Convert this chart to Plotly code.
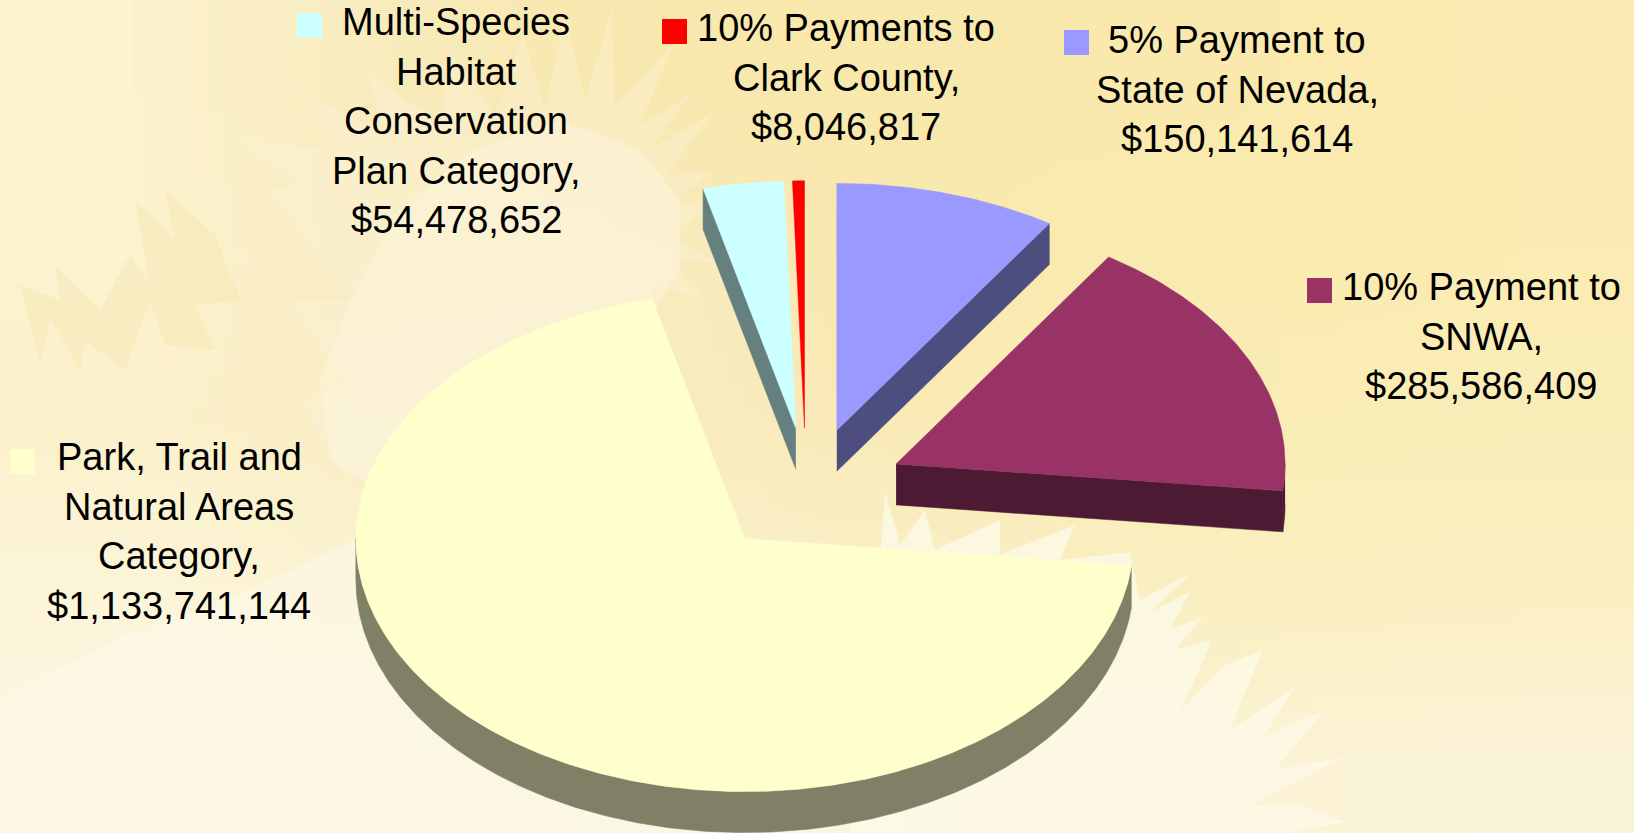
import base64
import struct
import zlib

import numpy as np
import plotly.graph_objects as go

# SLICES, clockwise from 12 o'clock
CATEGORIES = ["5% Payment to State of Nevada", "10% Payment to SNWA",
              "Park, Trail and Natural Areas Category",
              "Multi-Species Habitat Conservation Plan Category",
              "10% Payments to Clark County"]
VALUES = [150141614, 285586409, 1133741144, 54478652, 8046817]
TOP_COLORS = ["#9999FF", "#993366", "#FFFFCC", "#CCFFFF", "#FF0000"]
WALL_COLORS = ["#4D4D80", "#4D1A33", "#808066", "#668080", "#800000"]

LABEL_LINES = [
    ["5% Payment to", "State of Nevada,", "$150,141,614"],
    ["10% Payment to", "SNWA,", "$285,586,409"],
    ["Park, Trail and", "Natural Areas", "Category,", "$1,133,741,144"],
    ["Multi-Species", "Habitat", "Conservation", "Plan Category,", "$54,478,652"],
    ["10% Payments to", "Clark County,", "$8,046,817"],
]
LABEL_X = [1237, 1481, 179, 456, 846]
LABEL_Y = [40, 287, 457, 22, 28]
KEY_X = [1064, 1307, 10, 297, 662]
KEY_Y = [30, 278, 449, 13, 19]
# the thin red slice sits a little left of where the explosion puts it
NUDGE_X = [0, -1, 0, 0, -3]

# PIE GEOMETRY (pixels of the page)
CX, CY = 809, 491
RX, RY_BACK, RY_FRONT = 389, 247, 253
DEPTH = 41
EXPLODE = 0.25
LINE_GAP = 49.6
FONT_SIZE = 38
KEY_W, KEY_H = 25, 25

# BACKGROUND colours, coarse grid that the browser smooths out
BG_GRID = [
    ["FCF3CF", "F9ECBE", "F8E8B0", "F9E8AC", "FAE9AC", "FAEAAE", "FAEBB2"],
    ["FCF3D0", "F9EDC2", "F8ECC2", "F8E9B2", "F9EBB0", "FAEBB0", "FAECB2"],
    ["FBF1CB", "FAEEC4", "F9EEC6", "F9EAB8", "FAECB4", "FAEDB5", "FAEDB8"],
    ["FCF5D8", "FBF3D2", "FBF2D0", "FAEFC8", "FAEFC4", "FBF0C0", "FBF0C2"],
    ["FCF7E4", "FCF7E4", "FCF8E6", "FBF6E0", "FBF3D4", "FBF3D4", "FBF3D8"],
]

# PALM FRONDS in the backdrop: outline, fill
FRONDS = [
    # pale burst behind the top labels, faint spikes then a soft core
    ([(340, 470), (300, 400), (345, 385), (290, 300), (350, 300), (270, 190), (300, 185), (240, 140),
      (340, 150), (300, 90), (385, 135), (366, 70), (440, 125), (450, 50), (495, 115), (523, 35),
      (545, 110), (565, 15), (585, 100), (612, 8), (615, 105), (675, 42), (640, 125), (690, 95),
      (650, 150), (716, 110), (665, 175), (712, 172), (670, 205), (720, 200), (672, 235), (715, 262),
      (670, 262), (705, 300), (655, 285), (640, 330), (520, 420), (400, 500)],
     "rgba(252,246,224,0.3)"),
    ([(330, 460), (320, 380), (350, 300), (400, 210), (470, 150), (560, 120), (640, 150), (680, 200),
      (680, 270), (640, 330), (520, 420), (400, 500)],
     "rgba(252,246,224,0.45)"),
    # pale ground lower left
    ([(0, 700), (130, 633), (250, 590), (360, 537), (420, 700), (460, 833), (0, 833)],
     "rgba(253,249,232,0.6)"),
    # pale burst lower right
    ([(880, 560), (885, 490), (900, 545), (925, 510), (935, 550), (1000, 520), (1000, 555),
      (1075, 525), (1060, 560), (1130, 552), (1140, 600), (1191, 573), (1150, 612), (1190, 592),
      (1170, 630), (1203, 617), (1175, 650), (1212, 640), (1195, 680), (1180, 710), (1225, 665),
      (1263, 650), (1240, 705), (1230, 730), (1295, 687), (1265, 735), (1325, 710), (1275, 770),
      (1345, 757), (1250, 805), (1300, 805), (1345, 822), (1290, 833), (850, 833)],
     "rgba(252,249,234,0.75)"),
    # darker fronds at the left
    ([(20, 285), (60, 300), (55, 265), (100, 310), (130, 255), (150, 285), (135, 200), (175, 240),
      (165, 190), (215, 235), (240, 300), (195, 305), (215, 350), (165, 345), (150, 300), (125, 370),
      (85, 340), (80, 370), (50, 320), (40, 365)],
     "rgba(244,226,170,0.35)"),
]


def bg_png(grid):
    rows = b""
    for row in grid:
        rows += b"\x00" + bytes.fromhex("".join(row))
    def chunk(tag, data):
        return struct.pack(">I", len(data)) + tag + data + struct.pack(">I", zlib.crc32(tag + data))
    ihdr = struct.pack(">IIBBBBB", len(grid[0]), len(grid), 8, 2, 0, 0, 0)
    png = b"\x89PNG\r\n\x1a\n" + chunk(b"IHDR", ihdr) + chunk(b"IDAT", zlib.compress(rows)) + chunk(b"IEND", b"")
    return "data:image/png;base64," + base64.b64encode(png).decode()


def rim(ax, ay, a0, a1):
    angles = np.radians(np.linspace(a0, a1, max(3, int(abs(a1 - a0) * 2))))
    ry = np.where(np.cos(angles) > 0, RY_BACK, RY_FRONT)
    return ax + RX * np.sin(angles), ay - ry * np.cos(angles)


def add_poly(fig, x, y, color, name, value):
    fig.add_trace(go.Scatter(
        x=list(x), y=list(y),
        mode="lines",
        fill="toself",
        fillcolor=color,
        line=dict(color=color, width=0.5),
        name=name,
        hoverinfo="text",
        text=f"{name}: ${value:,}",
    ))


fig = go.Figure()

# angles come from the values
shares = np.array(VALUES) / sum(VALUES) * 360
stops = np.concatenate([[0], np.cumsum(shares)])

for i, name in enumerate(CATEGORIES):
    a0, a1 = stops[i], stops[i + 1]
    mid = np.radians((a0 + a1) / 2)
    ax = CX + EXPLODE * 390 * np.sin(mid) + NUDGE_X[i]
    ay = CY - EXPLODE * RY_FRONT * np.cos(mid)

    # cut faces that look towards the viewer
    for edge, normal in ((a0, a0 - 90), (a1, a1 + 90)):
        if np.cos(np.radians(normal)) < -0.1:
            ex, ey = rim(ax, ay, edge, edge + 0.01)
            add_poly(fig, [ax, ex[0], ex[0], ax], [ay, ey[0], ey[0] + DEPTH, ay + DEPTH],
                     WALL_COLORS[i], name, VALUES[i])

    # outer wall, front half of the rim only
    for lo, hi in ((90, 270), (450, 630)):
        w0, w1 = max(a0, lo), min(a1, hi)
        if w1 > w0:
            wx, wy = rim(ax, ay, w0, w1)
            add_poly(fig, np.concatenate([wx, wx[::-1]]), np.concatenate([wy, wy[::-1] + DEPTH]),
                     WALL_COLORS[i], name, VALUES[i])

    # top face
    tx, ty = rim(ax, ay, a0, a1)
    add_poly(fig, np.concatenate([[ax], tx, [ax]]), np.concatenate([[ay], ty, [ay]]),
             TOP_COLORS[i], name, VALUES[i])

shapes = []
for points, color in FRONDS:
    path = "M " + " L ".join(f"{px},{py}" for px, py in points) + " Z"
    shapes.append(dict(type="path", path=path, fillcolor=color, line_width=0, layer="below"))

for i, lines in enumerate(LABEL_LINES):
    shapes.append(dict(type="rect", x0=KEY_X[i], x1=KEY_X[i] + KEY_W, y0=KEY_Y[i], y1=KEY_Y[i] + KEY_H,
                       fillcolor=TOP_COLORS[i], line_width=0))
    for j, line in enumerate(lines):
        fig.add_annotation(x=LABEL_X[i], y=LABEL_Y[i] + j * LINE_GAP, text=line, showarrow=False,
                           xanchor="center", yanchor="middle",
                           font=dict(family="Liberation Sans, Arial, sans-serif", size=FONT_SIZE, color="#000000"))

fig.update_layout(
    width=1634,
    height=833,
    margin=dict(l=0, r=0, t=0, b=0),
    paper_bgcolor="#FAEDB8",
    plot_bgcolor="rgba(0,0,0,0)",
    showlegend=False,
    shapes=shapes,
    images=[dict(source=bg_png(BG_GRID), xref="paper", yref="paper", x=0, y=1, sizex=1, sizey=1,
                 sizing="stretch", xanchor="left", yanchor="top", layer="below")],
    xaxis=dict(range=[0, 1634], visible=False, fixedrange=True),
    yaxis=dict(range=[833, 0], visible=False, fixedrange=True),
)

fig.write_html("out.html", config=dict(displayModeBar=False),
               post_script="document.body.style.margin='0';")
